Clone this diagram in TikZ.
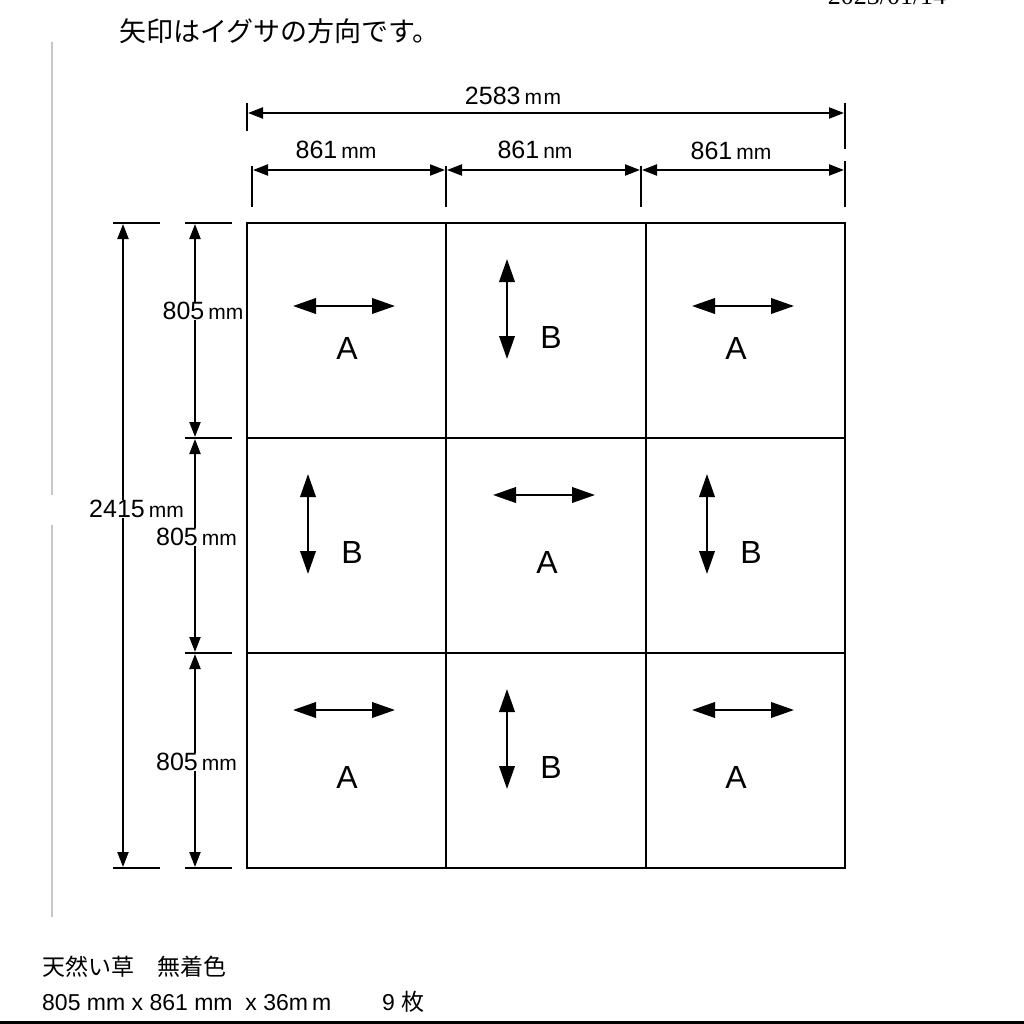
\documentclass[tikz,border=0pt]{standalone}
\usepackage{fontspec}
\usetikzlibrary{arrows.meta}
\setmainfont{Liberation Sans}
\newfontfamily\cjk{Noto Sans CJK JP}
\newfontfamily\datefont{Liberation Serif}
\newcommand{\lentext}[2]{#1\hspace{4pt}{\fontsize{21}{21}\selectfont #2}}
\tikzset{
  sizeline/.style={line width=2.1pt, {Triangle[length=15pt,width=11pt]}-{Triangle[length=15pt,width=11pt]}},
  grainline/.style={line width=2.1pt, {Triangle[length=23pt,width=15.5pt]}-{Triangle[length=23pt,width=15.5pt]}},
  tickline/.style={line width=2.1pt},
  gridline/.style={line width=2.2pt},
  sizelabel/.style={fill=white, inner sep=0.5pt, font=\fontsize{25}{25}\selectfont},
  typelabel/.style={font=\fontsize{32}{32}\selectfont},
  pagetext/.style={anchor=base west, inner sep=0pt}
}

\begin{document}
\begin{tikzpicture}[x=1pt,y=-1pt]
  \useasboundingbox (0,0) rectangle (1024,1024);

  % mat outline and seams
  \coordinate (g00) at (247,223);
  \coordinate (g10) at (446,223);
  \coordinate (g20) at (646,223);
  \coordinate (g30) at (845,223);
  \coordinate (g01) at (247,438);
  \coordinate (g31) at (845,438);
  \coordinate (g02) at (247,653);
  \coordinate (g32) at (845,653);
  \coordinate (g03) at (247,868);
  \coordinate (g13) at (446,868);
  \coordinate (g23) at (646,868);
  \coordinate (g33) at (845,868);
  \draw[gridline] (g00) -- (g30) -- (g33) -- (g03) -- cycle;
  \draw[gridline] (g10) -- (g13);
  \draw[gridline] (g20) -- (g23);
  \draw[gridline] (g01) -- (g31);
  \draw[gridline] (g02) -- (g32);

  % page margin line
  \coordinate (m1) at (52,42);
  \coordinate (m2) at (52,495);
  \coordinate (m3) at (52,525);
  \coordinate (m4) at (52,917);
  \draw[line width=1.8pt, black!22] (m1) -- (m2);
  \draw[line width=1.8pt, black!22] (m3) -- (m4);

  % widths
  \coordinate (t1a) at (247,103);
  \coordinate (t1b) at (247,131);
  \coordinate (t2a) at (845,103);
  \coordinate (t2b) at (845,149);
  \coordinate (t3a) at (252,166);
  \coordinate (t3b) at (252,207);
  \coordinate (t4a) at (446,166);
  \coordinate (t4b) at (446,207);
  \coordinate (t5a) at (641,166);
  \coordinate (t5b) at (641,207);
  \coordinate (t6a) at (845,161);
  \coordinate (t6b) at (845,207);
  \draw[tickline] (t1a) -- (t1b);
  \draw[tickline] (t2a) -- (t2b);
  \draw[tickline] (t3a) -- (t3b);
  \draw[line width=2.8pt] (t4a) -- (t4b);
  \draw[tickline] (t5a) -- (t5b);
  \draw[tickline] (t6a) -- (t6b);

  \coordinate (wall1) at (248,113);
  \coordinate (wall2) at (844,113);
  \coordinate (w1) at (253,170);
  \coordinate (w2) at (445,170);
  \coordinate (w3) at (447,170);
  \coordinate (w4) at (640,170);
  \coordinate (w5) at (642,170);
  \coordinate (w6) at (844,170);
  \draw[sizeline] (wall1) -- (wall2);
  \draw[sizeline] (w1) -- (w2);
  \draw[sizeline] (w3) -- (w4);
  \draw[sizeline] (w5) -- (w6);

  \node[font=\fontsize{25}{25}\selectfont] (lall) at (513,96) {\lentext{2583}{m\hspace{1.5pt}m}};
  \node[font=\fontsize{25}{25}\selectfont] (lw1) at (336,150) {\lentext{861}{mm}};
  \node[font=\fontsize{25}{25}\selectfont] (lw2) at (535,150) {\lentext{861}{nm}};
  \node[font=\fontsize{25}{25}\selectfont] (lw3) at (731,151) {\lentext{861}{mm}};

  % lengths
  \coordinate (s1a) at (113,223);
  \coordinate (s1b) at (160,223);
  \coordinate (s2a) at (113,868);
  \coordinate (s2b) at (160,868);
  \coordinate (s3a) at (185,223);
  \coordinate (s3b) at (232,223);
  \coordinate (s4a) at (185,438);
  \coordinate (s4b) at (232,438);
  \coordinate (s5a) at (185,653);
  \coordinate (s5b) at (232,653);
  \coordinate (s6a) at (185,868);
  \coordinate (s6b) at (232,868);
  \draw[tickline] (s1a) -- (s1b);
  \draw[tickline] (s2a) -- (s2b);
  \draw[tickline] (s3a) -- (s3b);
  \draw[tickline] (s4a) -- (s4b);
  \draw[tickline] (s5a) -- (s5b);
  \draw[tickline] (s6a) -- (s6b);

  \coordinate (hall1) at (123,224);
  \coordinate (hall2) at (123,867);
  \coordinate (h1) at (195,224);
  \coordinate (h2) at (195,437);
  \coordinate (h3) at (195,439);
  \coordinate (h4) at (195,652);
  \coordinate (h5) at (195,654);
  \coordinate (h6) at (195,867);
  \draw[sizeline] (hall1) -- (hall2);
  \draw[sizeline] (h1) -- (h2);
  \draw[sizeline] (h3) -- (h4);
  \draw[sizeline] (h5) -- (h6);

  \node[sizelabel] (lh1) at (203,311) {\lentext{805}{mm}};
  \node[sizelabel] (lh2) at (196.5,537) {\lentext{805}{mm}};
  \node[sizelabel] (lh3) at (196.5,762) {\lentext{805}{mm}};
  \node[sizelabel] (lhall) at (136.5,509) {\lentext{2415}{mm}};

  % grain arrows
  \coordinate (a1l) at (293,306);
  \coordinate (a1r) at (395,306);
  \coordinate (a2t) at (507,259);
  \coordinate (a2b) at (507,359);
  \coordinate (a3l) at (692,306);
  \coordinate (a3r) at (794,306);
  \coordinate (a4t) at (308,474);
  \coordinate (a4b) at (308,574);
  \coordinate (a5l) at (493,495);
  \coordinate (a5r) at (595,495);
  \coordinate (a6t) at (707,474);
  \coordinate (a6b) at (707,574);
  \coordinate (a7l) at (293,710);
  \coordinate (a7r) at (395,710);
  \coordinate (a8t) at (507,689);
  \coordinate (a8b) at (507,789);
  \coordinate (a9l) at (692,710);
  \coordinate (a9r) at (794,710);
  \draw[grainline] (a1l) -- (a1r);
  \draw[grainline] (a2t) -- (a2b);
  \draw[grainline] (a3l) -- (a3r);
  \draw[grainline] (a4t) -- (a4b);
  \draw[grainline] (a5l) -- (a5r);
  \draw[grainline] (a6t) -- (a6b);
  \draw[grainline] (a7l) -- (a7r);
  \draw[grainline] (a8t) -- (a8b);
  \draw[grainline] (a9l) -- (a9r);

  \node[typelabel] (c1) at (347,348) {A};
  \node[typelabel] (c2) at (551,337) {B};
  \node[typelabel] (c3) at (736,348) {A};
  \node[typelabel] (c4) at (352,552) {B};
  \node[typelabel] (c5) at (547,562) {A};
  \node[typelabel] (c6) at (751,552) {B};
  \node[typelabel] (c7) at (347,777) {A};
  \node[typelabel] (c8) at (551,767) {B};
  \node[typelabel] (c9) at (736,777) {A};

  % page text
  \node[pagetext, font=\fontsize{27}{27}\selectfont] (title) at (119,42) {\cjk 矢印はイグサの方向です。};
  \node[anchor=base, inner sep=0pt, font=\fontsize{26}{26}\selectfont] (date) at (887,5) {\datefont 2023/01/14};
  \node[pagetext, font=\fontsize{23}{23}\selectfont] (spec1) at (42,975) {\cjk 天然い草　無着色};
  \node[pagetext, font=\fontsize{23}{23}\selectfont] (spec2) at (42,1010) {805 mm x 861 mm\ \ x 36m\hspace{4pt}m};
  \node[pagetext, font=\fontsize{23}{23}\selectfont] (spec3) at (382,1010) {9 {\cjk 枚}};

  \fill (0,1021) rectangle (1024,1024);
\end{tikzpicture}
\end{document}
